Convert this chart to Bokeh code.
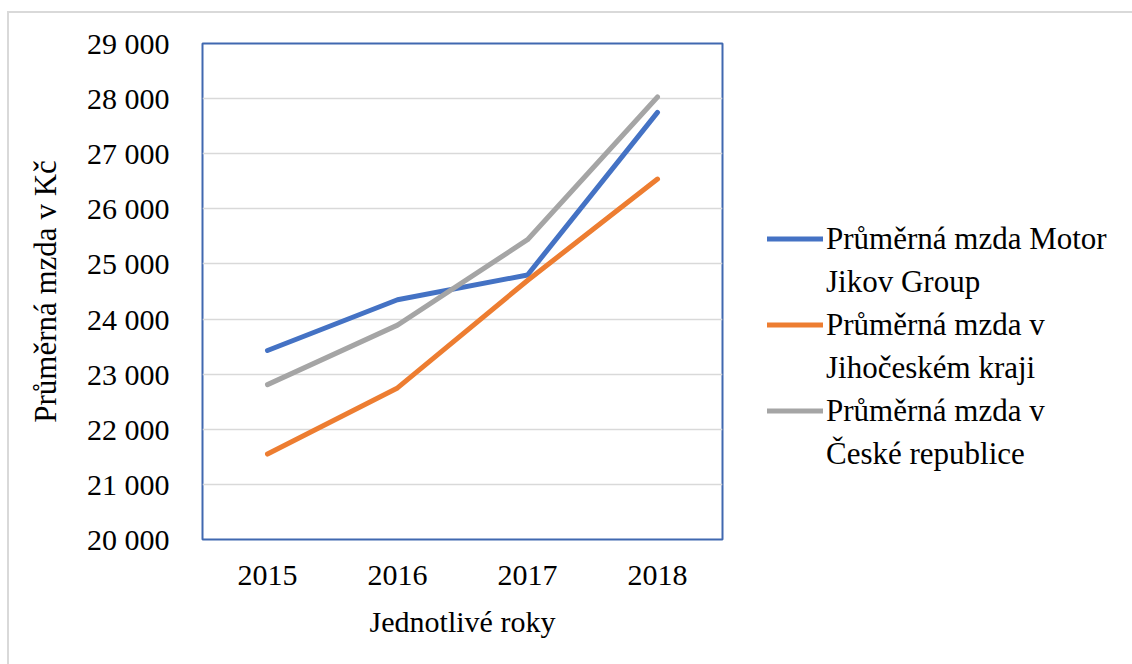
from bokeh.plotting import figure
from bokeh.models import (Legend, LegendItem, FixedTicker, FactorRange, Range1d)
from bokeh.embed import file_html
from bokeh.resources import INLINE

# Average monthly wage (CZK) per year
years = ["2015", "2016", "2017", "2018"]
motor_jikov = [23430, 24350, 24800, 27750]
jihocesky_kraj = [21550, 22750, 24700, 26540]
ceska_republika = [22810, 23890, 25440, 28030]

y_ticks = [20000, 21000, 22000, 23000, 24000, 25000, 26000, 27000, 28000, 29000]
y_tick_labels = ["20 000", "21 000", "22 000", "23 000", "24 000",
                 "25 000", "26 000", "27 000", "28 000", "29 000"]

# legend names, wrapped onto two lines
name_line1 = ["Průměrná mzda Motor", "Průměrná mzda v", "Průměrná mzda v"]
name_line2 = ["Jikov Group", "Jihočeském kraji", "České republice"]
colors = ["#4472C4", "#ED7D31", "#A5A5A5"]

FONT = "Liberation Serif"

p = figure(frame_width=520, frame_height=496,
           x_range=FactorRange(*years, range_padding=0),
           y_range=Range1d(20000, 29000),
           output_backend="svg", toolbar_location=None,
           min_border_left=193, min_border_right=20,
           min_border_top=30, min_border_bottom=125)
# outer chart border (left and top edges visible)
p.styles = {"border-left": "2px solid #D9D9D9", "border-top": "2px solid #D9D9D9",
            "margin-left": "7px", "margin-top": "11px"}

p.background_fill_color = "white"
p.border_fill_color = "white"
p.outline_line_color = "#4068B0"
p.outline_line_width = 2

# axes
p.yaxis.ticker = FixedTicker(ticks=y_ticks)
p.yaxis.major_label_overrides = {t: s for t, s in zip(y_ticks, y_tick_labels)}
for ax in (p.xaxis, p.yaxis):
    ax.axis_line_color = None
    ax.major_tick_line_color = None
    ax.minor_tick_line_color = None
    ax.major_label_text_font = FONT
    ax.major_label_text_font_size = "30px"
    ax.major_label_text_color = "black"
    ax.axis_label_text_font = FONT
    ax.axis_label_text_font_size = "30px"
    ax.axis_label_text_font_style = "normal"
    ax.axis_label_text_color = "black"
p.yaxis.axis_label_text_font_size = "31px"
p.yaxis.major_label_standoff = 27
p.xaxis.major_label_standoff = 20
p.yaxis.axis_label = "Průměrná mzda v Kč"
p.xaxis.axis_label = "Jednotlivé roky"
p.yaxis.axis_label_standoff = 21
p.xaxis.axis_label_standoff = 17

p.xgrid.grid_line_color = None
p.ygrid.grid_line_color = "#D9D9D9"
p.ygrid.grid_line_width = 1.5

# series
series = [motor_jikov, jihocesky_kraj, ceska_republika]
items = []
for vals, c, l1, l2 in zip(series, colors, name_line1, name_line2):
    r = p.line(years, vals, line_color=c, line_width=5,
               line_cap="round", line_join="round")
    # glyph-less companion carrying the wrapped second line of the name
    r2 = p.line(years, vals, line_color=None)
    items.append(LegendItem(label=l1, renderers=[r]))
    items.append(LegendItem(label=l2, renderers=[r2]))

legend = Legend(items=items, location=(45, 64), orientation="vertical",
                label_text_font=FONT, label_text_font_size="31px",
                label_text_color="black",
                glyph_width=56, glyph_height=43, label_height=43,
                label_standoff=3, spacing=0, padding=0, margin=0,
                border_line_color=None, background_fill_alpha=0)
p.add_layout(legend, "right")

open("out.html", "w").write(file_html(p, INLINE))
